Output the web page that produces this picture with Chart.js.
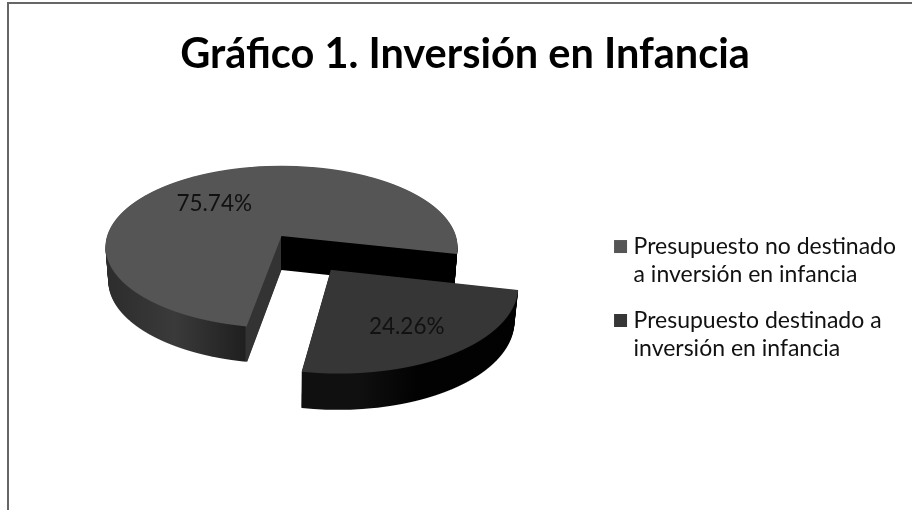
<!DOCTYPE html>
<html lang="es">
<head>
<meta charset="utf-8">
<title>Gráfico 1. Inversión en Infancia</title>
<script src="https://cdn.jsdelivr.net/npm/chart.js@4/dist/chart.umd.min.js"></script>
<style>
html,body{margin:0;padding:0;background:#fff;overflow:hidden}
canvas{display:block;filter:blur(0.4px)}
</style>
</head>
<body>
<canvas id="c" width="912" height="510"></canvas>
<script>
const chartTitle = 'Gráfico 1. Inversión en Infancia';
const categories = [
  ['Presupuesto no destinado', 'a inversión en infancia'],
  ['Presupuesto destinado a', 'inversión en infancia']
];
const values = [75.74, 24.26];
const topColors = ['#555555', '#363636'];

// View of the pie: a perspective tilt, applied to the arcs Chart.js draws.
const RADIUS = 176, CENTER_X = 281.5, LAYERS = 36, EXPLODE = 340, ROTATION = 190;
const TOP_FACE = {y0: 236, B: 79.7, A: -0.1337, S: 0.991};
const BOTTOM_FACE = {y0: 270, B: 81, A: -0.1337, S: 0.975};
const LABEL_NUDGE = [[-21.5, -1], [18.5, 18]];
const WALLS = [
  [[0, '#2c2c2c'], [105, '#2c2c2c'], [175, '#3a3a3a'], [245, '#1f1f1f'], [246, '#333333'], [281, '#333333'], [281.5, '#000000'], [912, '#000000']],
  [[0, '#101010'], [300, '#101010'], [360, '#020202'], [912, '#000000']]
];

function faceAt(z) {
  const mix = k => TOP_FACE[k] + (BOTTOM_FACE[k] - TOP_FACE[k]) * z;
  return {y0: mix('y0'), B: mix('B'), A: TOP_FACE.A, S: mix('S')};
}

// Paint one arc element row by row through the perspective view.
function paintArc(ctx, el, face, fillFor) {
  const oy = Math.sin((el.startAngle + el.endAngle) / 2) * el.options.offset / 4;
  const tMin = (oy - RADIUS) / RADIUS - 0.02, tMax = (oy + RADIUS) / RADIUS + 0.02;
  const saved = el.options;
  const rowTop = face.y0 + face.B * tMin / (1 + face.A * tMin);
  const rowEnd = face.y0 + face.B * tMax / (1 + face.A * tMax);
  for (let row = Math.floor(rowTop); row <= Math.ceil(rowEnd); row++) {
    const Y = row + 0.5 - face.y0;
    const t = Y / (face.B - face.A * Y);
    const w = 1 + face.A * t;
    const sx = face.S / w;
    const sy = face.B / (w * w) / RADIUS;
    ctx.save();
    ctx.setTransform(1, 0, 0, 1, 0, 0);
    ctx.beginPath();
    ctx.rect(0, row, 912, 1);
    ctx.clip();
    const e = CENTER_X - el.x * sx;
    const f = row + 0.5 - (el.y + t * RADIUS) * sy;
    ctx.setTransform(sx, 0, 0, sy, e, f);
    el.options = Object.assign({}, saved, {backgroundColor: fillFor(sx, e)});
    el.draw(ctx);
    ctx.restore();
  }
  el.options = saved;
}

function project(x, y, el) {
  const t = (y - el.y) / RADIUS;
  const w = 1 + TOP_FACE.A * t;
  return {
    x: CENTER_X + (x - el.x) * TOP_FACE.S / w,
    y: TOP_FACE.y0 + TOP_FACE.B * t / w
  };
}

const perspectivePie = {
  id: 'perspectivePie',
  beforeDraw(chart) {
    const ctx = chart.ctx;
    ctx.save();
    ctx.fillStyle = '#ffffff';
    ctx.fillRect(0, 0, 912, 510);
    ctx.strokeStyle = '#666666';
    ctx.lineWidth = 2;
    ctx.beginPath();
    ctx.moveTo(8, 510);
    ctx.lineTo(8, 3);
    ctx.lineTo(912, 3);
    ctx.stroke();
    ctx.restore();
  },
  beforeDatasetsDraw(chart) {
    const ctx = chart.ctx;
    const arcs = chart.getDatasetMeta(0).data;
    arcs.forEach((el, i) => {
      for (let l = LAYERS; l >= 1; l--) {
        paintArc(ctx, el, faceAt(l / LAYERS), (sx, e) => {
          const g = ctx.createLinearGradient((0 - e) / sx, 0, (912 - e) / sx, 0);
          WALLS[i].forEach(([x, c]) => g.addColorStop(x / 912, c));
          return g;
        });
      }
      paintArc(ctx, el, TOP_FACE, () => topColors[i]);
    });
    ctx.save();
    ctx.font = '22.5px Lato';
    ctx.fillStyle = '#111111';
    ctx.textAlign = 'center';
    ctx.textBaseline = 'middle';
    arcs.forEach((el, i) => {
      const mid = (el.startAngle + el.endAngle) / 2;
      const d = RADIUS / 2 + el.options.offset / 4;
      const p = project(el.x + Math.cos(mid) * d, el.y + Math.sin(mid) * d, el);
      ctx.fillText(values[i].toFixed(2) + '%', p.x + LABEL_NUDGE[i][0], p.y + LABEL_NUDGE[i][1]);
    });
    ctx.restore();
    return false;
  }
};

new Chart(document.getElementById('c'), {
  type: 'pie',
  plugins: [perspectivePie],
  data: {
    labels: categories,
    datasets: [{
      data: values,
      backgroundColor: topColors,
      borderWidth: 0,
      offset: [0, EXPLODE],
      radius: RADIUS
    }]
  },
  options: {
    responsive: false,
    animation: false,
    rotation: ROTATION,
    events: [],
    layout: {padding: {left: 24, right: 6, top: 10, bottom: 127}},
    plugins: {
      tooltip: {enabled: false},
      title: {
        display: true,
        text: chartTitle,
        color: '#000000',
        font: {family: 'Lato', size: 41.5, weight: 'bold'},
        padding: {top: 20, bottom: -45}
      },
      legend: {
        position: 'right',
        align: 'end',
        labels: {
          color: '#111111',
          font: {family: 'Lato', size: 23, lineHeight: 1.217},
          usePointStyle: true,
          pointStyle: 'rect',
          boxWidth: 3,
          boxHeight: 13,
          padding: 18
        }
      }
    }
  }
});
</script>
</body>
</html>
